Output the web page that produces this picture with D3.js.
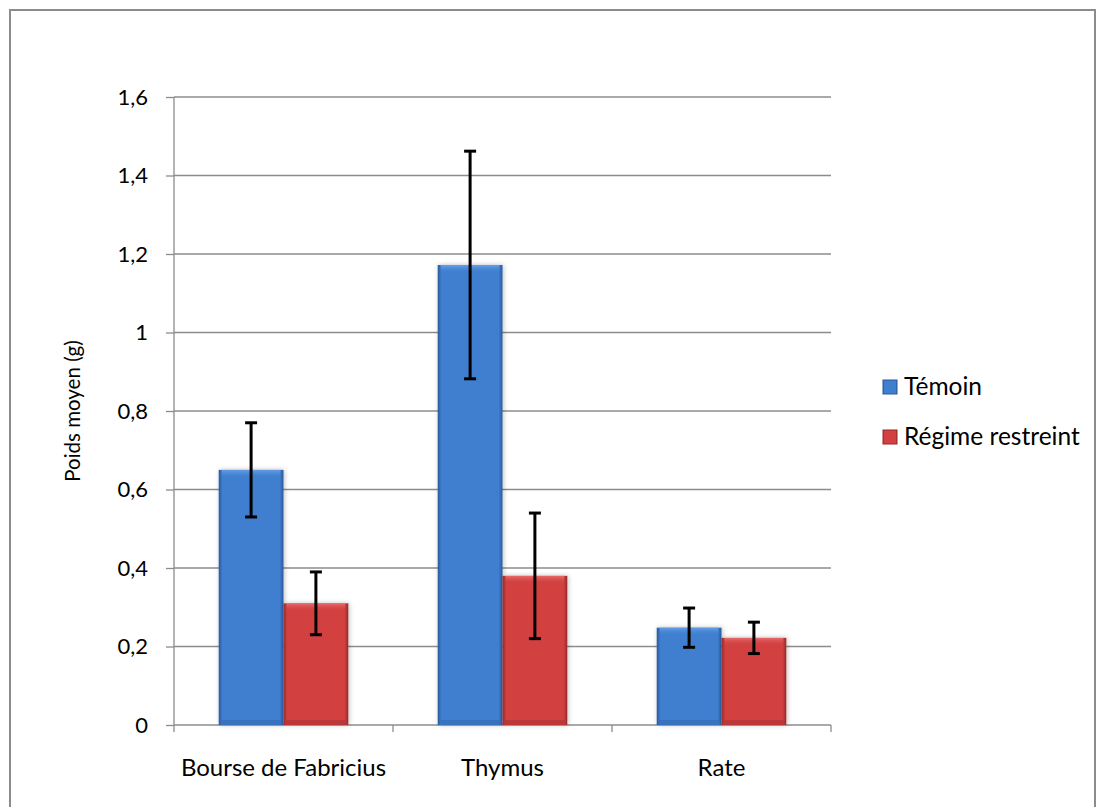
<!DOCTYPE html>
<html><head><meta charset="utf-8">
<script src="https://cdn.jsdelivr.net/npm/d3@7"></script>
<style>body{margin:0;background:#fff;}svg text{font-family:Lato,"Open Sans",sans-serif;fill:#000;}</style>
</head><body>
<svg id="chart" width="1105" height="807"></svg>
<script>
// Organ weights by diet group
const categories = ["Bourse de Fabricius", "Thymus", "Rate"];
const seriesNames = ["Témoin", "Régime restreint"];
const temoin = [0.65, 1.172, 0.248];
const temoinErr = [0.12, 0.29, 0.05];
const regime = [0.31, 0.38, 0.222];
const regimeErr = [0.08, 0.16, 0.04];
const yTicks = [0, 0.2, 0.4, 0.6, 0.8, 1, 1.2, 1.4, 1.6];

const svg = d3.select("#chart");
const m = {left: 174, right: 831, top: 97, bottom: 725};
const FONT = "Lato, 'Open Sans', sans-serif";

// outer frame
svg.append("rect").attr("x", 10).attr("y", 10).attr("width", 1085).attr("height", 810)
  .attr("fill", "#fff").attr("stroke", "#8c8c8c").attr("stroke-width", 2);

const y = d3.scaleLinear().domain([0, 1.6]).range([m.bottom, m.top]);
const x0 = d3.scaleBand().domain(categories).range([m.left, m.right]).paddingInner(0).paddingOuter(0);
const x1 = d3.scaleBand().domain(seriesNames).range([0, x0.bandwidth()]).paddingInner(0).paddingOuter(0.69);

const colors = {
  "Témoin": {mid: "#3f7fd0", dark: "#2a5a9a", light: "#6aa3ea"},
  "Régime restreint": {mid: "#d24040", dark: "#952a2a", light: "#ec7070"}
};
const defs = svg.append("defs");
const sh = defs.append("filter").attr("id", "sh").attr("x", "-20%").attr("y", "-20%").attr("width", "140%").attr("height", "140%");
sh.append("feGaussianBlur").attr("in", "SourceAlpha").attr("stdDeviation", 2.5);
sh.append("feOffset").attr("dx", 1).attr("dy", 0);
sh.append("feComponentTransfer").append("feFuncA").attr("type", "linear").attr("slope", 0.25);
const mg = sh.append("feMerge");
mg.append("feMergeNode");
mg.append("feMergeNode").attr("in", "SourceGraphic");
seriesNames.forEach((s, i) => {
  const c = colors[s];
  const g = defs.append("linearGradient").attr("id", "h" + i).attr("x1", 0).attr("x2", 1).attr("y1", 0).attr("y2", 0);
  g.append("stop").attr("offset", 0).attr("stop-color", c.dark);
  g.append("stop").attr("offset", 0.06).attr("stop-color", c.mid);
  g.append("stop").attr("offset", 0.94).attr("stop-color", c.mid);
  g.append("stop").attr("offset", 1).attr("stop-color", c.dark);
  const v = defs.append("linearGradient").attr("id", "v" + i).attr("x1", 0).attr("x2", 0).attr("y1", 0).attr("y2", 1);
  v.append("stop").attr("offset", 0).attr("stop-color", c.light).attr("stop-opacity", 0.9);
  v.append("stop").attr("offset", 1).attr("stop-color", c.mid).attr("stop-opacity", 0);
});

// gridlines
svg.append("g").selectAll("line").data(yTicks.filter(t => t > 0)).join("line")
  .attr("x1", m.left).attr("x2", m.right).attr("y1", d => y(d)).attr("y2", d => y(d))
  .attr("stroke", "#8c8c8c").attr("stroke-width", 1.3);

// y axis
const yAxis = svg.append("g").attr("transform", `translate(${m.left},0)`)
  .call(d3.axisLeft(y).tickValues(yTicks).tickSize(8).tickPadding(18)
    .tickFormat(d => String(d).replace(".", ",")));
yAxis.select(".domain").attr("stroke", "#8c8c8c").attr("stroke-width", 1.3).attr("d", `M0,${m.top}V${m.bottom}`);
yAxis.selectAll(".tick line").attr("stroke", "#8c8c8c").attr("stroke-width", 1.3);
yAxis.selectAll(".tick text").attr("font-size", 22).attr("font-family", FONT).attr("fill", "#000");

// x axis
const xAxis = svg.append("g").attr("transform", `translate(0,${m.bottom})`)
  .call(d3.axisBottom(x0).tickSize(0).tickPadding(34));
xAxis.select(".domain").attr("stroke", "#8c8c8c").attr("stroke-width", 1.3).attr("d", `M${m.left},0H${m.right}`);
xAxis.selectAll(".tick text").attr("font-size", 24).attr("font-family", FONT).attr("fill", "#000");
// category boundary ticks
svg.append("g").selectAll("line").data(categories.map(c => x0(c)).concat([m.right])).join("line")
  .attr("x1", d => d).attr("x2", d => d).attr("y1", m.bottom).attr("y2", m.bottom + 7)
  .attr("stroke", "#8c8c8c").attr("stroke-width", 1.3);

// y title
svg.append("text").attr("transform", `translate(80,${(m.top + m.bottom) / 2}) rotate(-90)`)
  .attr("text-anchor", "middle").attr("font-size", 20.5).text("Poids moyen (g)");

// bars
const seriesVals = [temoin, regime];
const seriesErr = [temoinErr, regimeErr];
seriesNames.forEach((s, i) => {
  const g = svg.append("g");
  const data = categories.map((c, k) => ({c, v: seriesVals[i][k]}));
  const bx = d => x0(d.c) + x1(s);
  g.selectAll("rect.base").data(data).join("rect")
    .attr("x", bx).attr("y", d => y(d.v)).attr("width", x1.bandwidth()).attr("height", d => y(0) - y(d.v))
    .attr("fill", `url(#h${i})`).attr("filter", "url(#sh)");
  g.selectAll("rect.top").data(data).join("rect")
    .attr("x", d => bx(d) + 3).attr("y", d => y(d.v)).attr("width", x1.bandwidth() - 6).attr("height", 8)
    .attr("fill", `url(#v${i})`);
  g.selectAll("rect.bot").data(data).join("rect")
    .attr("x", d => bx(d) + 3).attr("y", d => y(0) - 5).attr("width", x1.bandwidth() - 6).attr("height", 5)
    .attr("fill", colors[s].dark).attr("opacity", 0.35);
});

// error bars
seriesNames.forEach((s, i) => {
  const g = svg.append("g").attr("stroke", "#000").attr("stroke-width", 3);
  categories.forEach((c, k) => {
    const cx = x0(c) + x1(s) + x1.bandwidth() / 2;
    const v = seriesVals[i][k], e = seriesErr[i][k];
    g.append("line").attr("x1", cx).attr("x2", cx).attr("y1", y(v + e)).attr("y2", y(v - e));
    g.append("line").attr("x1", cx - 6).attr("x2", cx + 6).attr("y1", y(v + e)).attr("y2", y(v + e));
    g.append("line").attr("x1", cx - 6).attr("x2", cx + 6).attr("y1", y(v - e)).attr("y2", y(v - e));
  });
});

// legend
const lg = svg.append("g").attr("transform", "translate(883,380)");
seriesNames.forEach((s, i) => {
  const row = lg.append("g").attr("transform", `translate(0,${i * 50})`);
  row.append("rect").attr("width", 14).attr("height", 14).attr("fill", `url(#h${i})`)
    .attr("stroke", colors[s].dark).attr("stroke-width", 1);
  row.append("text").attr("x", 21).attr("y", 15).attr("font-size", 24.5).text(s);
});
</script>
</body></html>
